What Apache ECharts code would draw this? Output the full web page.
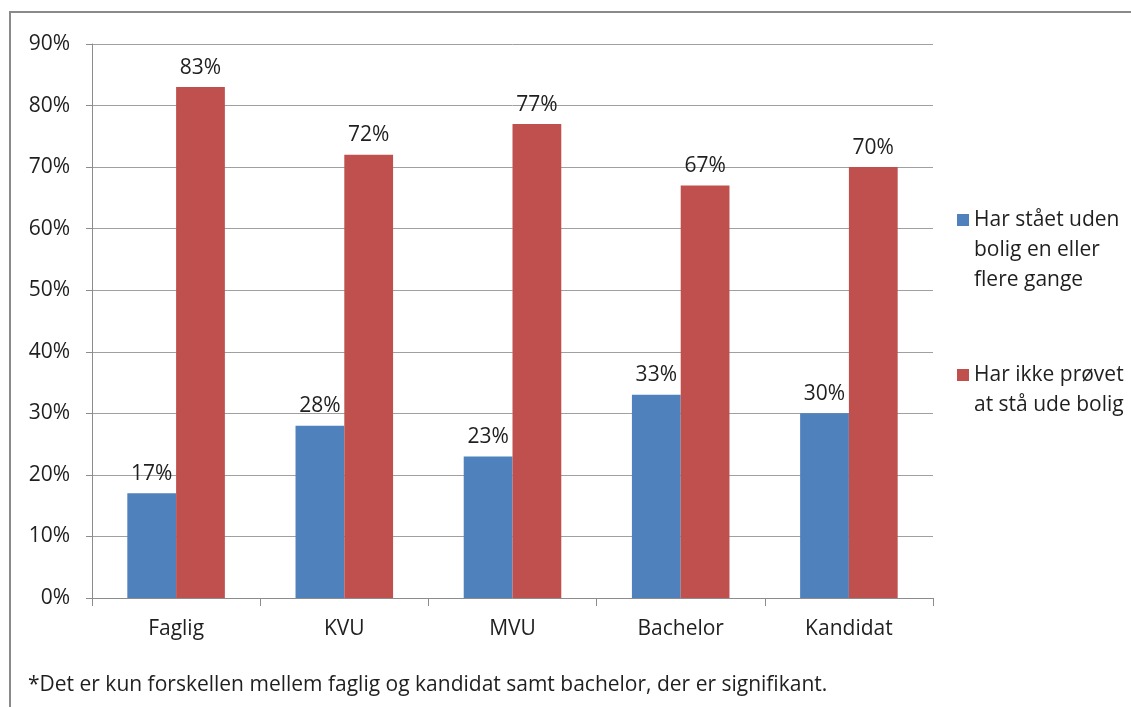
<!DOCTYPE html>
<html>
<head>
<meta charset="utf-8">
<script src="https://cdn.jsdelivr.net/npm/echarts@6/dist/echarts.min.js"></script>
<style>
  html, body { margin: 0; padding: 0; background: #fff; }
  #chart { width: 1131px; height: 707px; }
</style>
</head>
<body>
<div id="chart"></div>
<script>
// data
const categories = ['Faglig', 'KVU', 'MVU', 'Bachelor', 'Kandidat'];
const seriesNames = ['Har stået uden bolig en eller flere gange', 'Har ikke prøvet at stå ude bolig'];
// leading blank lines keep the legend square level with the first text line
const legendLines = ['\n\nHar stået uden\nbolig en eller\nflere gange', '\nHar ikke prøvet\nat stå ude bolig'];
const udenBolig = [17, 28, 23, 33, 30];
const ikkeProvet = [83, 72, 77, 67, 70];
const footnote = '*Det er kun forskellen mellem faglig og kandidat samt bachelor, der er signifikant.';

const FONT = '"Open Sans", sans-serif';
const SIZE = 21;
const TEXT = '#1f1f1f';
const AXIS = '#8c8c8c';

const chart = echarts.init(document.getElementById('chart'));

const labelStyle = {
  show: true,
  position: 'top',
  distance: 9,
  formatter: (p) => p.value + '%',
  color: TEXT,
  fontFamily: FONT,
  fontSize: SIZE,
};

chart.setOption({
  backgroundColor: '#fff',
  animation: false,
  grid: { left: 92, right: 198, top: 44, bottom: 109 },
  legend: {
    orient: 'vertical',
    left: 957,
    top: 145,
    padding: 0,
    itemWidth: 12,
    itemHeight: 12,
    itemGap: 35,
    icon: 'rect',
    formatter: (name) => legendLines[seriesNames.indexOf(name)],
    textStyle: { color: TEXT, fontFamily: FONT, fontSize: SIZE, lineHeight: 30 },
    data: seriesNames,
  },
  xAxis: {
    type: 'category',
    data: categories,
    axisLine: { lineStyle: { color: AXIS, width: 1 } },
    axisTick: { show: true, length: 8, lineStyle: { color: AXIS } },
    axisLabel: { color: TEXT, fontFamily: FONT, fontSize: SIZE, margin: 21 },
  },
  yAxis: {
    type: 'value',
    min: 0,
    max: 90,
    interval: 10,
    axisLine: { show: true, lineStyle: { color: AXIS, width: 1 } },
    axisTick: { show: true, length: 6, lineStyle: { color: AXIS } },
    axisLabel: { color: TEXT, fontFamily: FONT, fontSize: SIZE, margin: 22, formatter: '{value}%' },
    splitLine: { show: true, lineStyle: { color: '#a0a0a0', width: 1 } },
  },
  series: [
    {
      name: seriesNames[0],
      type: 'bar',
      data: udenBolig,
      barGap: '0%',
      barCategoryGap: '42%',
      itemStyle: { color: '#4f81bd' },
      label: labelStyle,
    },
    {
      name: seriesNames[1],
      type: 'bar',
      data: ikkeProvet,
      itemStyle: { color: '#c0504d' },
      label: labelStyle,
    },
  ],
  graphic: [
    {
      type: 'rect',
      shape: { x: 10, y: 12, width: 1140, height: 720 },
      style: { fill: 'none', stroke: '#8a8a8a', lineWidth: 2 },
      silent: true,
    },
    {
      type: 'text',
      left: 28,
      top: 675,
      style: { text: footnote, fill: TEXT, font: SIZE + 'px ' + FONT },
    },
  ],
});
</script>
</body>
</html>
